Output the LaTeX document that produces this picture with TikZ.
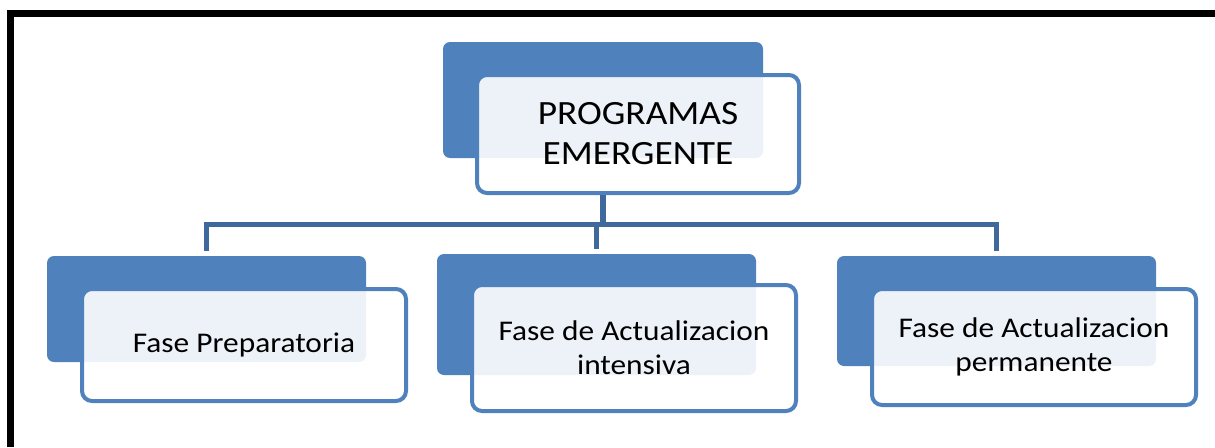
\documentclass[tikz,border=0pt]{standalone}
\usepackage{fontspec}
\setmainfont[FakeStretch=1.1]{Carlito}
\definecolor{accent}{HTML}{4F81BD}
\definecolor{conncol}{HTML}{3F689C}
\begin{document}
\begin{tikzpicture}[x=1pt,y=-1pt,
  backbox/.style={rectangle, rounded corners=7pt, fill=accent, draw=none, inner sep=0pt},
  frontbox/.style={rectangle, rounded corners=10pt, draw=accent, line width=4pt, fill=white, fill opacity=0.9, text opacity=1, inner sep=0pt, align=center},
  toptext/.style={font=\fontsize{34}{40}\selectfont},
  subtext/.style={font=\fontsize{28.5}{34}\selectfont},
  conn/.style={draw=conncol, line width=5.5pt}]
\useasboundingbox (0,0) rectangle (1215,447);
% outer frame
\draw[line width=7pt] (10.8,447) -- (10.8,13.5) -- (1215,13.5);
% top box
\node[backbox, minimum width=320pt, minimum height=116pt] (b0) at (603,100) {};
\node[frontbox, toptext, minimum width=322pt, minimum height=118pt] (f0) at (638,134) {PROGRAMAS\\EMERGENTE};
% lower boxes
\node[backbox, minimum width=319pt, minimum height=106pt] (b1) at (206.5,309) {};
\node[backbox, minimum width=319pt, minimum height=121pt] (b2) at (596.5,314.5) {};
\node[backbox, minimum width=319pt, minimum height=110pt] (b3) at (996.5,311) {};
% connectors
\coordinate (bus) at (0,224.5);
\draw[conn] (b0 |- f0.south) -- (b0 |- bus);
\draw[conn] ([yshift=5pt]b1.north) |- (bus -| b3) -- ([yshift=5pt]b3.north);
\draw[conn] (b2 |- bus) -- ([yshift=5pt]b2.north);
\node[frontbox, subtext, minimum width=324pt, minimum height=112pt] (f1) at (244,345) {Fase Preparatoria};
\node[frontbox, subtext, minimum width=324pt, minimum height=126pt] (f2) at (634,348) {Fase de Actualizacion\\intensiva};
\node[frontbox, subtext, minimum width=324pt, minimum height=116pt] (f3) at (1034,347) {Fase de Actualizacion\\permanente};
\end{tikzpicture}
\end{document}
